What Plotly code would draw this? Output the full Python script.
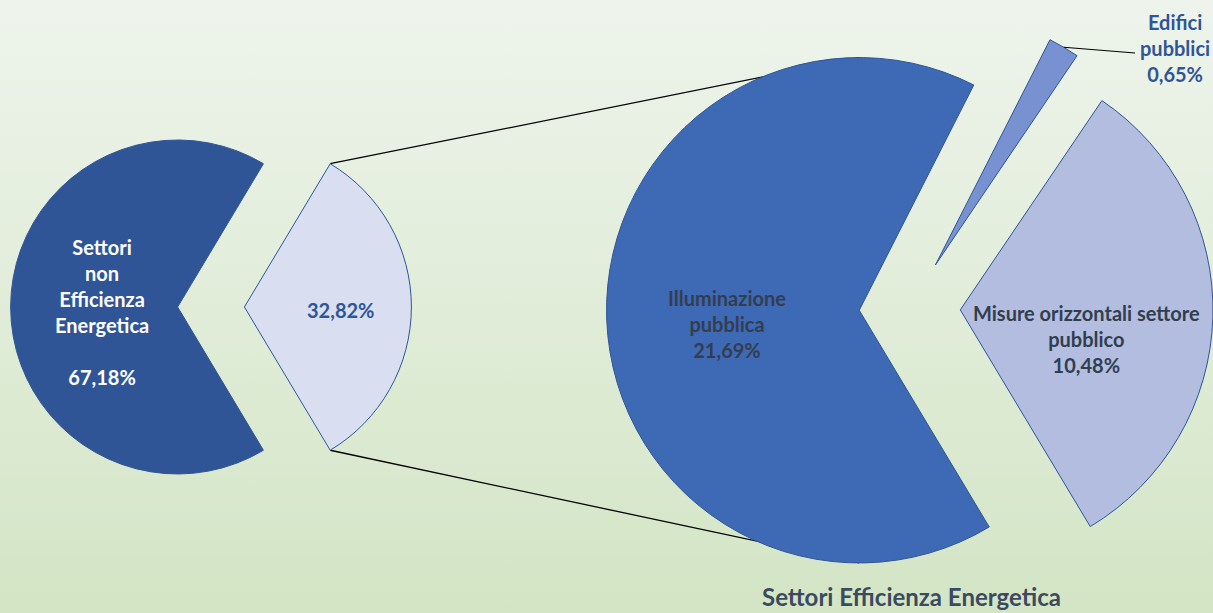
import math
import base64
import plotly.graph_objects as go

# ---------------- data ----------------
main_labels = ["Settori Efficienza Energetica", "Settori non Efficienza Energetica"]
main_values = [32.82, 67.18]
main_text = ["32,82%", "67,18%"]

sub_labels = ["Edifici pubblici", "Misure orizzontali settore pubblico", "Illuminazione pubblica"]
sub_values = [0.65, 10.48, 21.69]
sub_text = ["0,65%", "10,48%", "21,69%"]

chart_title = "Settori Efficienza Energetica"

# ---------------- layout / style ----------------
W, H = 1213, 613
PULL = 0.2
left_dom = dict(x=[0.0087, 0.3392], y=[0.1723, 0.8261])
right_dom = dict(x=[0.5, 1.0], y=[0.0015, 0.992])

main_colors = ["#d9dff0", "#2f5597"]
sub_colors = ["#7891d0", "#b2bddf", "#3e69b4"]
edge = "#2f5597"
FONT = "Lato"

# rotation (clockwise from 12 o'clock) so that the first main slice faces right
rot_left = 90 - 360 * main_values[0] / sum(main_values) / 2
# the Illuminazione slice faces (almost) left
rot_right = 268 - 360 * (sub_values[0] + sub_values[1] + sub_values[2] / 2) / sum(sub_values)


def pie_geom(dom, values, rot):
    bw = W * (dom["x"][1] - dom["x"][0])
    bh = H * (dom["y"][1] - dom["y"][0])
    r = min(bw, bh) / 2 / (1 + PULL)
    cx = W * (dom["x"][0] + dom["x"][1]) / 2
    cy = H * (1 - (dom["y"][0] + dom["y"][1]) / 2)
    tot = sum(values)
    out = []
    a = rot
    for v in values:
        a0, a1 = a, a + 360 * v / tot
        mid = math.radians((a0 + a1) / 2)
        pcx = cx + PULL * r * math.sin(mid)
        pcy = cy - PULL * r * math.cos(mid)
        out.append(dict(a0=a0, a1=a1, cx=pcx, cy=pcy, r=r))
        a = a1
    return out


def pt(s, ang):
    t = math.radians(ang)
    return s["cx"] + s["r"] * math.sin(t), s["cy"] - s["r"] * math.cos(t)


def paper(p):
    return p[0] / W, 1 - p[1] / H


gl = pie_geom(left_dom, main_values, rot_left)
gr = pie_geom(right_dom, sub_values, rot_right)

fig = go.Figure()
fig.add_trace(go.Pie(
    labels=main_labels, values=main_values, sort=False, direction="clockwise",
    rotation=rot_left, pull=[PULL, PULL], domain=left_dom,
    marker=dict(colors=main_colors, line=dict(color=[edge, main_colors[1]], width=1)),
    textinfo="none", hoverinfo="skip", showlegend=False,
))
fig.add_trace(go.Pie(
    labels=sub_labels, values=sub_values, sort=False, direction="clockwise",
    rotation=rot_right, pull=[PULL, PULL, PULL], domain=right_dom,
    marker=dict(colors=sub_colors, line=dict(color=edge, width=1)),
    textinfo="none", hoverinfo="skip", showlegend=False,
))

# connector lines from the exploded slice to the second pie
light = gl[0]
illum = gr[2]
p_top = pt(light, light["a0"])
p_bot = pt(light, light["a1"])
q_top = (illum["cx"], illum["cy"] - illum["r"])
q_bot = (illum["cx"], illum["cy"] + illum["r"])
shapes = []
for p, q in [(p_top, q_top), (p_bot, q_bot)]:
    (x0, y0), (x1, y1) = paper(p), paper(q)
    shapes.append(dict(type="line", xref="paper", yref="paper", x0=x0, y0=y0, x1=x1, y1=y1,
                       line=dict(color="black", width=1.3), layer="below"))

# leader line for the small slice
ed = gr[0]
lp = paper(pt(ed, (ed["a0"] + ed["a1"]) / 2))
lq = paper((1135, 53))
shapes.append(dict(type="line", xref="paper", yref="paper", x0=lp[0], y0=lp[1], x1=lq[0], y1=lq[1],
                   line=dict(color="black", width=1.2), layer="above"))

# gradient background
svg = ("<svg xmlns='http://www.w3.org/2000/svg' width='100' height='100' preserveAspectRatio='none'>"
       "<defs><linearGradient id='g' x1='0' y1='0' x2='0' y2='1'>"
       "<stop offset='0' stop-color='#eef4ec'/><stop offset='1' stop-color='#d3e5c5'/>"
       "</linearGradient></defs><rect width='100' height='100' fill='url(#g)'/></svg>")
src = "data:image/svg+xml;base64," + base64.b64encode(svg.encode()).decode()


def ann(text, x, y, color, size):
    return dict(text=text, x=x / W, y=1 - y / H, xref="paper", yref="paper",
                xanchor="center", yanchor="middle", showarrow=False,
                font=dict(family=FONT, size=size, color=color, weight="bold"))


annotations = [
    ann("Settori<br>non<br>Efficienza<br>Energetica<br><br>" + main_text[1], 102, 312, "white", 20),
    ann(main_text[0], 340, 310, "#2f5597", 20),
    ann("Illuminazione<br>pubblica<br>" + sub_text[2], 727, 324, "#323e50", 20),
    ann("Misure orizzontali settore<br>pubblico<br>" + sub_text[1], 1086, 339, "#323e50", 20),
    ann("Edifici<br>pubblici<br>" + sub_text[0], 1175, 48, "#2f5597", 20),
    ann(chart_title, 911, 596, "#3c4a5e", 24),
]

fig.update_layout(
    width=W, height=H, margin=dict(l=0, r=0, t=0, b=0),
    paper_bgcolor="#e2edd9", plot_bgcolor="rgba(0,0,0,0)",
    images=[dict(source=src, xref="paper", yref="paper", x=0, y=1, sizex=1, sizey=1,
                 sizing="stretch", xanchor="left", yanchor="top", layer="below")],
    shapes=shapes, annotations=annotations,
)

fig.write_html(
    "out.html",
    config={"displayModeBar": False},
    post_script="document.body.style.margin='0';document.body.style.overflow='hidden';",
)
